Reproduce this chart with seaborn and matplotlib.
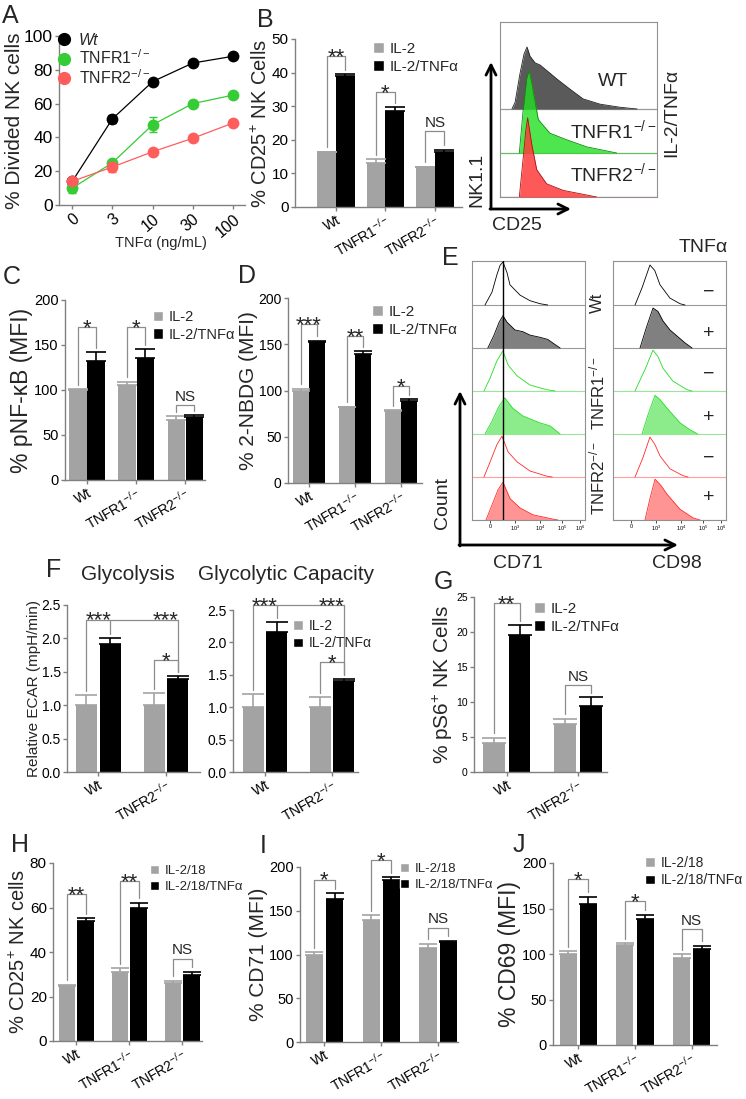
import numpy as np
import pandas as pd
import matplotlib
matplotlib.use('Agg')
import matplotlib.pyplot as plt
import seaborn as sns
from matplotlib.patches import Patch
from matplotlib.lines import Line2D

# ---------------- data ----------------
doses = ['0', '3', '10', '30', '100']
a_wt = [14, 51, 73, 84, 88]
a_wt_err = [1, 2.5, 1, 1, 1]
a_r1 = [10, 25, 47.5, 60, 65]
a_r1_err = [3, 1.5, 4.5, 1, 1]
a_r2 = [14, 22.5, 31.5, 39.5, 48.5]
a_r2_err = [1, 3, 1, 1, 1]

geno3 = ['Wt', 'TNFR1$^{-/-}$', 'TNFR2$^{-/-}$']
geno2 = ['Wt', 'TNFR2$^{-/-}$']
treat_il2 = ['IL-2', 'IL-2/TNFα']
treat_il18 = ['IL-2/18', 'IL-2/18/TNFα']

b_il2 = [16.3, 13.0, 11.8]
b_il2_err = [0.2, 1.3, 0.2]
b_tnf = [39.0, 28.5, 16.3]
b_tnf_err = [0.6, 1.2, 0.8]
b_sig = ['**', '*', 'NS']
b_brk = [45, 34.3, 22.5]

c_il2 = [100, 105, 67]
c_il2_err = [1, 4, 4]
c_tnf = [132, 135, 70]
c_tnf_err = [10, 10, 2]
c_sig = ['*', '*', 'NS']
c_brk = [170, 170, 83]

d_il2 = [100, 82, 78]
d_il2_err = [1.5, 0.5, 0.5]
d_tnf = [152, 140, 89]
d_tnf_err = [2, 2.5, 1.5]
d_sig = ['***', '**', '*']
d_brk = [172, 159, 104.5]

fl_il2 = [1.0, 1.0]
fl_il2_err = [0.15, 0.19]
fl_tnf = [1.92, 1.39]
fl_tnf_err = [0.08, 0.05]
fl_brk = [2.28, 1.67]     # long bracket, TNFR2 bracket

fr_il2 = [1.0, 1.0]
fr_il2_err = [0.2, 0.16]
fr_tnf = [2.165, 1.41]
fr_tnf_err = [0.155, 0.03]
fr_brk = [2.58, 1.70]

g_il2 = [4.2, 6.8]
g_il2_err = [0.7, 0.8]
g_tnf = [19.6, 9.4]
g_tnf_err = [1.4, 1.3]
g_sig = ['**', 'NS']
g_brk = [24.1, 12.4]

h_il2 = [24.5, 30.8, 26.0]
h_il2_err = [0.7, 1.8, 1.0]
h_tnf = [54, 60, 29.7]
h_tnf_err = [1.2, 2.2, 1.4]
h_sig = ['**', '**', 'NS']
h_brk = [66, 71.8, 37]

i_il2 = [100, 140, 108]
i_il2_err = [3, 5, 4.5]
i_tnf = [164, 185, 114]
i_tnf_err = [6, 3.5, 2]
i_sig = ['*', '*', 'NS']
i_brk = [185.5, 207.6, 130.7]

j_il2 = [100, 109.5, 96]
j_il2_err = [3, 2.5, 3.5]
j_tnf = [155, 138, 106]
j_tnf_err = [8, 5, 3]
j_sig = ['*', '*', 'NS']
j_brk = [182.4, 157.8, 127.3]

# flow histograms (x: % of box width, y: row heights above baseline)
cd25_names = ['WT', 'TNFR1$^{-/-}$', 'TNFR2$^{-/-}$']
cd25_wt_x = [7.6, 9.6, 12.7, 15.3, 17.2, 19.1, 22.3, 25.5, 30.6, 36.3, 44.6, 52.9, 63.7, 76.4, 87.3]
cd25_wt_y = [0, 0.15, 0.8, 1.25, 1.41, 1.2, 1.05, 1.0, 0.85, 0.68, 0.45, 0.23, 0.11, 0.04, 0]
cd25_r1_x = [12.3, 14.8, 17.0, 18.5, 20.2, 24.4, 31.8, 42.5, 55.2, 74.3]
cd25_r1_y = [0, 1.0, 1.7, 1.88, 1.6, 0.76, 0.45, 0.3, 0.14, 0]
cd25_r2_x = [12.3, 14.8, 16.4, 17.6, 20.2, 23.4, 29.7, 40.3, 61.6]
cd25_r2_y = [0, 0.9, 1.5, 1.8, 1.2, 0.62, 0.3, 0.15, 0]

cd71_x = [
    [11.5, 17.7, 22, 24.8, 27.4, 31, 33.6, 42.5, 51.3, 60.2, 67],
    [14, 19.5, 24, 27.4, 31, 38, 45, 51.3, 60, 67, 73.5, 78],
    [10.6, 16, 22, 27.4, 32, 40, 51.3, 66, 73.5],
    [11.5, 17.7, 24, 29, 36, 45, 60, 69, 78],
    [10.6, 16, 22, 26.5, 32, 40, 51.3, 66, 71],
    [12.4, 17.7, 23, 27.4, 33.6, 42.5, 54, 71.7, 76],
]
cd71_y = [
    [0, 0.3, 0.7, 0.92, 1.0, 0.75, 0.47, 0.23, 0.1, 0.03, 0],
    [0, 0.3, 0.6, 0.75, 0.6, 0.42, 0.38, 0.3, 0.25, 0.2, 0.08, 0],
    [0, 0.3, 0.7, 0.93, 0.6, 0.35, 0.14, 0.03, 0],
    [0, 0.3, 0.65, 0.84, 0.6, 0.42, 0.26, 0.19, 0],
    [0, 0.35, 0.75, 0.95, 0.58, 0.35, 0.14, 0.02, 0],
    [0, 0.35, 0.7, 0.88, 0.5, 0.28, 0.12, 0.02, 0],
]
cd98_x = [
    [19.5, 25.7, 32.7, 37, 41.6, 50.4, 59.3, 63.7],
    [23.9, 29.2, 35.4, 39.8, 44.2, 50.4, 56.6, 63.7, 70],
    [19.5, 28.3, 35.4, 39.8, 44.2, 53, 65.5, 70],
    [25.7, 31, 37.2, 41.6, 47.8, 59.3, 68, 75],
    [19.5, 26.5, 32.7, 37.2, 41.6, 50.4, 62, 66.4],
    [28.3, 32.7, 37.2, 42.5, 47.8, 59.3, 70.8, 77],
]
cd98_y = [
    [0, 0.4, 0.93, 0.8, 0.47, 0.16, 0.03, 0],
    [0, 0.45, 0.93, 0.85, 0.63, 0.42, 0.28, 0.12, 0],
    [0, 0.5, 0.95, 0.8, 0.53, 0.23, 0.03, 0],
    [0, 0.45, 0.9, 0.8, 0.6, 0.26, 0.1, 0],
    [0, 0.45, 0.93, 0.75, 0.49, 0.19, 0.03, 0],
    [0, 0.5, 0.95, 0.8, 0.6, 0.25, 0.05, 0],
]
e_rows = ['Wt', 'TNFR1$^{-/-}$', 'TNFR2$^{-/-}$']
e_tnf = ['−', '+', '−', '+', '−', '+']
e_tick_pos = [16, 38, 60, 80, 96]
e_tick_lab = ['0', '$10^3$', '$10^4$', '$10^5$', '$10^6$']

# ---------------- style ----------------
sns.set_theme(style='ticks')
plt.rcParams['font.family'] = ['Liberation Sans', 'DejaVu Sans']
plt.rcParams['mathtext.fontset'] = 'custom'
plt.rcParams['mathtext.rm'] = 'Liberation Sans'
plt.rcParams['mathtext.it'] = 'Liberation Sans:italic'
plt.rcParams['mathtext.bf'] = 'Liberation Sans:bold'

W, H = 746, 1099
GREY = '#a3a3a3'
AXC = '#808080'
BRK = '#8c8c8c'

fig = plt.figure(figsize=(W / 100, H / 100), dpi=100)


def add_ax(x0, y0, x1, y1):
    return fig.add_axes([x0 / W, 1 - y1 / H, (x1 - x0) / W, (y1 - y0) / H])


def style_ax(ax, tick_fs):
    sns.despine(ax=ax)
    for s in ('left', 'bottom'):
        ax.spines[s].set_color(AXC)
        ax.spines[s].set_linewidth(1)
    ax.tick_params(colors=AXC, labelcolor='black', labelsize=tick_fs,
                   length=3, width=1, pad=1.5)


def sig_text(ax, x, y, s):
    if s == 'NS':
        ax.annotate(s, (x, y), xytext=(0, 1), textcoords='offset points',
                    ha='center', va='bottom', fontsize=11, annotation_clip=False)
    else:
        ax.annotate(s, (x, y), xytext=(0, -5), textcoords='offset points',
                    ha='center', va='baseline', fontsize=16, annotation_clip=False)


def bracket(ax, xl, xr, top, yl, yr):
    ax.plot([xl, xl, xr, xr], [yl, top, top, yr], color=BRK, lw=0.9, clip_on=False)


def legend_at(ax, labels, tl, fs):
    hs = [Patch(facecolor=GREY), Patch(facecolor='black')]
    ax.legend(hs, labels, loc='upper left', bbox_to_anchor=(tl[0] / W, 1 - tl[1] / H),
              bbox_transform=fig.transFigure, frameon=False, fontsize=fs,
              handlelength=0.7, handleheight=0.7, handletextpad=0.4,
              labelspacing=0.25, borderpad=0, borderaxespad=0)


def bar_panel(rect, xlim, groups, treats, gv, ge, bv, be, ymax, yticks, yfmt,
              ylabel, ylab_fs, width, gap, leg_tl, leg_fs,
              tick_fs, xtick_fs, sig=None, brk=None):
    x0, y0, x1, y1 = rect
    ax = add_ax(*rect)
    n = len(groups)
    df = pd.DataFrame({'group': groups * 2,
                       'treat': [treats[0]] * n + [treats[1]] * n,
                       'value': gv + bv})
    sns.barplot(data=df, x='group', y='value', hue='treat', order=groups,
                hue_order=treats, palette=[GREY, 'black'], width=width, gap=gap,
                saturation=1, errorbar=None, legend=False, linewidth=0, ax=ax)
    xg = [p.get_x() + p.get_width() / 2 for p in ax.containers[0]]
    xb = [p.get_x() + p.get_width() / 2 for p in ax.containers[1]]
    bw = ax.containers[0][0].get_width()
    ax.set_xlim(*xlim)
    ax.set_ylim(0, ymax)
    bar_px = bw * (x1 - x0) / (xlim[1] - xlim[0])
    cap = bar_px * 0.55 * 0.72
    ax.errorbar(xg, gv, yerr=[np.zeros(n), ge], fmt='none', ecolor=GREY,
                elinewidth=1.2, capsize=cap, capthick=1.2)
    ax.errorbar(xb, bv, yerr=[np.zeros(n), be], fmt='none', ecolor='black',
                elinewidth=1.2, capsize=cap, capthick=1.2)
    style_ax(ax, tick_fs)
    ax.set_yticks(yticks)
    ax.set_yticklabels([yfmt.format(t) for t in yticks])
    ax.set_xticks(range(n))
    ax.set_xticklabels(groups, rotation=30, ha='right', rotation_mode='anchor',
                       fontsize=xtick_fs)
    ax.set_xlabel('')
    ax.set_ylabel(ylabel, fontsize=ylab_fs, labelpad=0.5)
    if leg_tl is not None:
        legend_at(ax, treats, leg_tl, leg_fs)
    pad = 0.025 * ymax
    if sig is not None:
        for i in range(n):
            bracket(ax, xg[i], xb[i], brk[i], gv[i] + ge[i] + pad, bv[i] + be[i] + pad)
            sig_text(ax, (xg[i] + xb[i]) / 2, brk[i], sig[i])
    return ax, xg, xb


# ---------------- A ----------------
axA = add_ax(59, 36, 245, 205)
xa = np.arange(len(doses))
a_cols = ['black', '#35cc35', '#ff5c5c']
for vals, errs, col in zip([a_wt, a_r1, a_r2], [a_wt_err, a_r1_err, a_r2_err], a_cols):
    sns.lineplot(x=xa, y=vals, color=col, marker='o', markersize=8.5,
                 markeredgewidth=0, linewidth=0.9, ax=axA)
    axA.errorbar(xa, vals, yerr=errs, fmt='none', ecolor=col, elinewidth=1, capsize=3)
axA.set_xlim(-0.33, 4.3)
axA.set_ylim(0, 100)
style_ax(axA, 12.5)
axA.set_yticks([0, 20, 40, 60, 80, 100])
axA.set_xticks(xa)
axA.set_xticklabels(doses, rotation=40, ha='right', rotation_mode='anchor', fontsize=11.5)
axA.set_ylabel('% Divided NK cells', fontsize=15, labelpad=0)
axA.set_xlabel('TNFα (ng/mL)', fontsize=10.5)
axA.xaxis.set_label_coords((161 - 59) / 186, -(236 - 205) / 169)
hA = [Line2D([], [], marker='o', color=c, linestyle='none', markersize=8.5) for c in a_cols]
legA = axA.legend(hA, ['Wt', 'TNFR1$^{-/-}$', 'TNFR2$^{-/-}$'], loc='upper left',
                  bbox_to_anchor=(58 / W, 1 - 33 / H), bbox_transform=fig.transFigure,
                  frameon=False, fontsize=11.5, handlelength=0.8, handletextpad=0.5,
                  labelspacing=0.05, borderpad=0, borderaxespad=0)
legA.get_texts()[0].set_style('italic')

# ---------------- B ----------------
bar_panel((295, 39, 462, 207), (-0.83, 2.55), geno3, treat_il2, b_il2, b_il2_err,
          b_tnf, b_tnf_err, 50, [0, 10, 20, 30, 40, 50], '{:d}',
          '% CD25$^{+}$ NK Cells', 14.5, 0.76, 0, (373, 42), 11, 11, 10,
          b_sig, b_brk)

# B flow overlay
axBf = add_ax(500, 22, 657, 197)
axBf.set_xlim(0, 100)
axBf.set_ylim(0, 175 / 44)
cd25_sets = [(cd25_wt_x, cd25_wt_y, 2, '#5a5a5a', '#222222', '#9a9a9a', 1.0),
             (cd25_r1_x, cd25_r1_y, 1, '#22e022', '#118811', '#66bb66', 0.8),
             (cd25_r2_x, cd25_r2_y, 0, '#ff3b3b', '#aa1111', '#cc6666', 0.85)]
for z, (hx, hy, off, fc, ec, lc, al) in enumerate(cd25_sets):
    hy = np.array(hy) + off
    axBf.axhline(off, color=lc, lw=0.9, zorder=2 * z)
    axBf.fill_between(hx, off, hy, color=fc, alpha=al, lw=0, zorder=2 * z + 1)
    axBf.plot(hx, hy, color=ec, lw=0.6, zorder=2 * z + 1)
axBf.set_xticks([])
axBf.set_yticks([])
for s in axBf.spines.values():
    s.set_color('#909090')
    s.set_linewidth(0.8)

# ---------------- C, D ----------------
bar_panel((65, 300, 205, 480), (-0.45, 2.4), geno3, treat_il2, c_il2, c_il2_err,
          c_tnf, c_tnf_err, 200, [0, 50, 100, 150, 200], '{:d}',
          '% pNF-κB (MFI)', 16.5, 0.74, 0.04, (153, 310), 10.5, 10.5, 10,
          c_sig, c_brk)
bar_panel((288, 298, 422, 483), (-0.46, 2.46), geno3, treat_il2, d_il2, d_il2_err,
          d_tnf, d_tnf_err, 200, [0, 50, 100, 150, 200], '{:d}',
          '% 2-NBDG (MFI)', 15, 0.72, 0.04, (372, 305), 11, 10, 10,
          d_sig, d_brk)

# ---------------- E ----------------
row_styles = [('black', None, '#9a9a9a'), ('black', '#808080', '#9a9a9a'),
              ('#22dd22', None, '#99e699'), ('#22dd22', '#8cec8c', '#99e699'),
              ('#ff2a2a', None, '#ff9f9f'), ('#ff2a2a', '#ff9494', '#ff9f9f')]
for rect, xs, ys in [((472, 261, 585, 520), cd71_x, cd71_y),
                     ((613, 261, 726, 520), cd98_x, cd98_y)]:
    axE = add_ax(*rect)
    axE.set_xlim(0, 100)
    axE.set_ylim(0, 259 / 43)
    for r in range(6):
        off = 5 - r
        ec, fc, lc = row_styles[r]
        hy = np.array(ys[r]) + off
        axE.axhline(off, color=lc, lw=0.8, zorder=1)
        if fc is not None:
            axE.fill_between(xs[r], off, hy, color=fc, lw=0, zorder=2)
        axE.plot(xs[r], hy, color=ec, lw=0.6, zorder=3)
    axE.set_yticks([])
    axE.set_xticks(e_tick_pos)
    axE.set_xticklabels(e_tick_lab, fontsize=4)
    axE.tick_params(axis='x', length=2, width=0.5, pad=1, colors='black')
    for s in axE.spines.values():
        s.set_color('#909090')
        s.set_linewidth(0.8)
    if rect[0] == 472:
        axE.axvline(27.4, color='black', lw=1, zorder=4)

# ---------------- F ----------------
axFl, xg, xb = bar_panel((67, 605, 200, 772), (-0.46, 1.5), geno2, treat_il2, fl_il2,
                         fl_il2_err, fl_tnf, fl_tnf_err, 2.5,
                         [0, 0.5, 1.0, 1.5, 2.0, 2.5], '{:.1f}',
                         'Relative ECAR (mpH/min)', 11, 0.7, 0.12, None, 10, 10, 10)
axFr, xg2, xb2 = bar_panel((233, 610, 358, 772), (-0.48, 1.39), geno2, treat_il2, fr_il2,
                           fr_il2_err, fr_tnf, fr_tnf_err, 2.5,
                           [0, 0.5, 1.0, 1.5, 2.0, 2.5], '{:.1f}',
                           '', 11, 0.7, 0.12, (293, 619), 10, 10, 10)
for ax, gx, bx, gv, ge, bv, be, brk in [
        (axFl, xg, xb, fl_il2, fl_il2_err, fl_tnf, fl_tnf_err, fl_brk),
        (axFr, xg2, xb2, fr_il2, fr_il2_err, fr_tnf, fr_tnf_err, fr_brk)]:
    pad = 0.06
    top = brk[0]
    ax.plot([gx[0], gx[0]], [gv[0] + ge[0] + pad, top], color=BRK, lw=0.9, clip_on=False)
    ax.plot([bx[0], bx[0]], [bv[0] + be[0] + pad, top], color=BRK, lw=0.9, clip_on=False)
    ax.plot([bx[1], bx[1]], [bv[1] + be[1] + pad, top], color=BRK, lw=0.9, clip_on=False)
    ax.plot([gx[0], bx[1]], [top, top], color=BRK, lw=0.9, clip_on=False)
    sig_text(ax, (gx[0] + bx[0]) / 2, top, '***')
    sig_text(ax, (gx[1] + bx[1]) / 2, top, '***')
    bracket(ax, gx[1], bx[1], brk[1], gv[1] + ge[1] + pad, bv[1] + be[1] + pad)
    sig_text(ax, (gx[1] + bx[1]) / 2, brk[1], '*')

# ---------------- G ----------------
bar_panel((474, 597, 607, 772), (-0.46, 1.41), geno2, treat_il2, g_il2, g_il2_err,
          g_tnf, g_tnf_err, 25, [0, 5, 10, 15, 20, 25], '{:d}',
          '% pS6$^{+}$ NK Cells', 15, 0.72, 0.15, (534, 602), 11, 7.5, 10,
          g_sig, g_brk)

# ---------------- H, I, J ----------------
bar_panel((53, 863, 202, 1041), (-0.44, 2.37), geno3, treat_il18, h_il2, h_il2_err,
          h_tnf, h_tnf_err, 80, [0, 20, 40, 60, 80], '{:d}',
          '% CD25$^{+}$ NK cells', 14.5, 0.7, 0.1, (150, 865), 9.5, 11, 10,
          h_sig, h_brk)
bar_panel((300, 867, 458, 1042), (-0.43, 2.35), geno3, treat_il18, i_il2, i_il2_err,
          i_tnf, i_tnf_err, 200, [0, 50, 100, 150, 200], '{:d}',
          '% CD71 (MFI)', 15, 0.71, 0.15, (400, 863), 9.5, 10.5, 10,
          i_sig, i_brk)
bar_panel((553, 863, 717, 1045), (-0.45, 2.45), geno3, treat_il18, j_il2, j_il2_err,
          j_tnf, j_tnf_err, 200, [0, 50, 100, 150, 200], '{:d}',
          '% CD69 (MFI)', 16.5, 0.71, 0.15, (645, 856), 10, 10.5, 10,
          j_sig, j_brk)

# ---------------- overlay: letters, flow labels, arrows ----------------
ov = fig.add_axes([0, 0, 1, 1], zorder=10)
ov.set_xlim(0, W)
ov.set_ylim(H, 0)
ov.axis('off')
ov.patch.set_alpha(0)

for lab, x, y in [('A', 10, 16), ('B', 265, 20), ('C', 12, 277), ('D', 247, 276),
                  ('E', 450, 258), ('F', 54, 570), ('G', 443, 582), ('H', 20, 845),
                  ('I', 263, 846), ('J', 519, 845)]:
    ov.text(x, y, lab, fontsize=18, ha='center', va='center')

ov.text(128, 574, 'Glycolysis', fontsize=15, ha='center', va='center')
ov.text(286, 574, 'Glycolytic Capacity', fontsize=15, ha='center', va='center')

arrow = dict(arrowstyle='->', lw=2, color='black', mutation_scale=18, shrinkA=0, shrinkB=0)
ov.annotate('', xy=(491, 62), xytext=(491, 209), arrowprops=arrow)
ov.annotate('', xy=(571, 209), xytext=(490, 209), arrowprops=arrow)
ov.text(477, 180, 'NK1.1', fontsize=14, rotation=90, ha='center', va='center')
ov.text(517, 225, 'CD25', fontsize=14, ha='center', va='center')
ov.text(672, 113, 'IL-2/TNFα', fontsize=14, rotation=90, ha='center', va='center')
for name, y in zip(cd25_names, [82, 130, 173]):
    ov.text(613, y, name, fontsize=14, ha='center', va='center')

ov.annotate('', xy=(460, 391), xytext=(460, 546), arrowprops=arrow)
ov.annotate('', xy=(678, 545), xytext=(459, 545), arrowprops=arrow)
ov.text(443, 503, 'Count', fontsize=14, rotation=90, ha='center', va='center')
ov.text(518, 563, 'CD71', fontsize=14, ha='center', va='center')
ov.text(677, 563, 'CD98', fontsize=14, ha='center', va='center')
ov.text(703, 247, 'TNFα', fontsize=14, ha='center', va='center')
for name, y in zip(e_rows, [303, 393, 478]):
    ov.text(597, y, name, fontsize=12, rotation=90, ha='center', va='center')
for sign, y in zip(e_tnf, [292, 333, 374, 417, 458, 497]):
    ov.text(709, y, sign, fontsize=14, ha='center', va='center')

fig.savefig('out.png', dpi=100)
